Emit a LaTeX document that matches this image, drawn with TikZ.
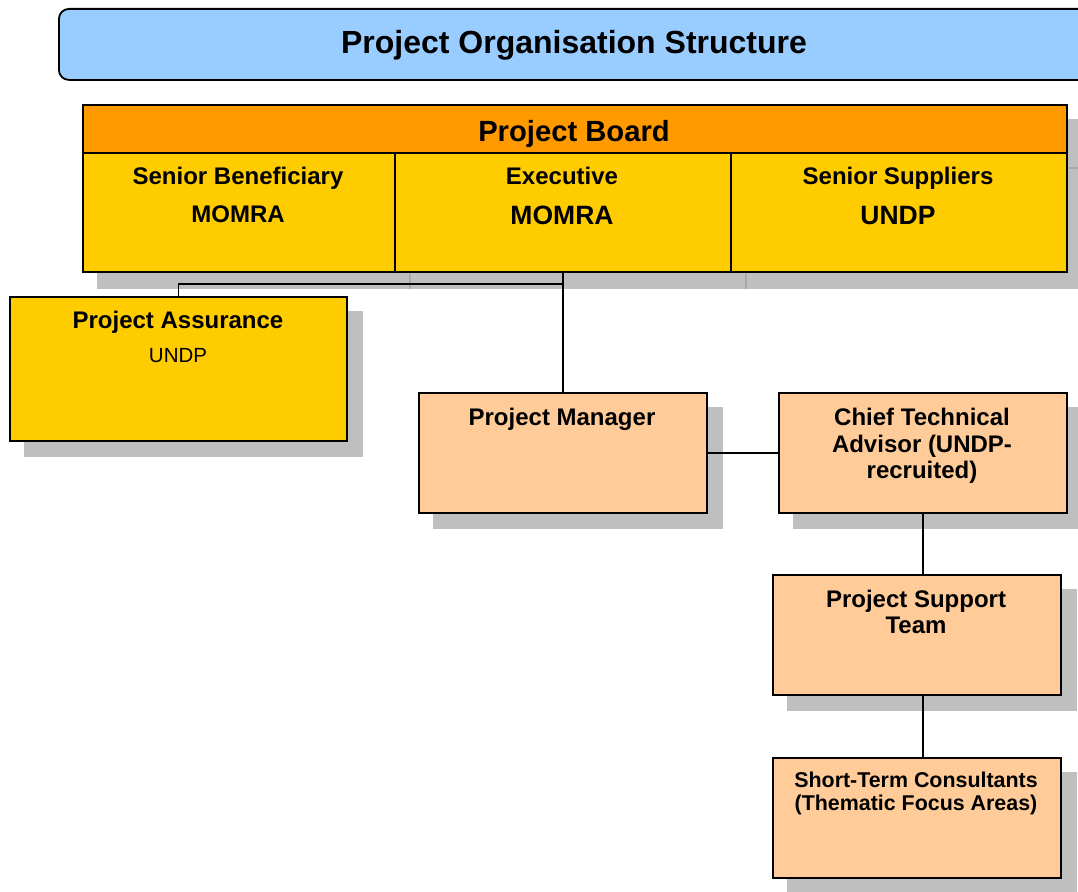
\documentclass[tikz,border=0pt]{standalone}
\usepackage{fontspec}
\setmainfont{Liberation Sans}
\definecolor{titleblue}{RGB}{153,204,255}
\definecolor{boardorange}{RGB}{255,153,0}
\definecolor{cellyellow}{RGB}{255,204,0}
\definecolor{peach}{RGB}{255,204,153}
\definecolor{shadowgrey}{RGB}{191,191,191}
\definecolor{shadowline}{RGB}{168,168,168}
\tikzset{
  box/.style={draw=black, line width=1.8pt, rectangle, inner sep=0pt, anchor=north west},
  shadowfill/.style={fill=shadowgrey},
  conn/.style={draw=black, line width=1.5pt},
  lbl/.style={anchor=base, inner sep=0pt},
  ftitle/.style={lbl, font=\fontsize{32}{37}\selectfont\bfseries},
  fboard/.style={lbl, font=\fontsize{29.2}{34}\selectfont\bfseries},
  fbig/.style={lbl, font=\fontsize{26.5}{31}\selectfont\bfseries},
  fmid/.style={lbl, font=\fontsize{24}{28}\selectfont\bfseries},
  fsmall/.style={lbl, font=\fontsize{21.4}{25}\selectfont\bfseries},
  freg/.style={lbl, font=\fontsize{20.5}{24}\selectfont},
}
\begin{document}
\begin{tikzpicture}[x=1pt,y=-1pt]
\clip (0,0) rectangle (1078,891);
\fill[white] (0,0) rectangle (1078,891);

% shadows
\fill[shadowfill] (97,119) rectangle (1083,289);
\draw[shadowline, line width=1.6pt] (97,168) -- (1083,168);
\draw[shadowline, line width=1.6pt] (410,168) -- (410,289);
\draw[shadowline, line width=1.6pt] (746,168) -- (746,289);
\fill[shadowfill] (24,311) rectangle (363,457);
\fill[shadowfill] (433,407) rectangle (723,529);
\fill[shadowfill] (793,407) rectangle (1083,529);
\fill[shadowfill] (787,589) rectangle (1077,711);
\fill[shadowfill] (787,772) rectangle (1077,894);

% title banner
\node[box, fill=titleblue, rounded corners=10pt, minimum width=1034pt, minimum height=71pt] (banner) at (58,8) {};
\node[ftitle] (titletext) at (574,53) {Project Organisation Structure};

% project board
\node[box, fill=boardorange, minimum width=984pt, minimum height=48pt] (board) at (82,104) {};
\node[box, fill=cellyellow, minimum width=312pt, minimum height=119pt] (sb) at (82,152) {};
\node[box, fill=cellyellow, minimum width=336pt, minimum height=119pt] (exec) at (394,152) {};
\node[box, fill=cellyellow, minimum width=336pt, minimum height=119pt] (ss) at (730,152) {};
\node[fboard] (boardtext) at (574,141) {Project Board};
\node[fmid] (sbt1) at (238,184) {Senior Beneficiary};
\node[fmid] (sbt2) at (238,222) {MOMRA};
\node[fmid] (ext1) at (562,184) {Executive};
\node[fbig] (ext2) at (562,224) {MOMRA};
\node[fmid] (sst1) at (898,184) {Senior Suppliers};
\node[fbig] (sst2) at (898,224) {UNDP};

% other boxes
\node[box, fill=cellyellow, minimum width=337pt, minimum height=144pt] (pa) at (9,296) {};
\node[fmid] (pat1) at (178,328) {Project Assurance};
\node[freg] (pat2) at (178,362) {UNDP};

\node[box, fill=peach, minimum width=288pt, minimum height=120pt] (pm) at (418,392) {};
\node[fmid] (pmt) at (562,425) {Project Manager};

\node[box, fill=peach, minimum width=288pt, minimum height=120pt] (cta) at (778,392) {};
\node[fmid] (ctat1) at (922,425) {Chief Technical};
\node[fmid] (ctat2) at (922,452) {Advisor (UNDP-};
\node[fmid] (ctat3) at (922,478) {recruited)};

\node[box, fill=peach, minimum width=288pt, minimum height=120pt] (pst) at (772,574) {};
\node[fmid] (pstt1) at (916,607) {Project Support};
\node[fmid] (pstt2) at (916,633) {Team};

\node[box, fill=peach, minimum width=288pt, minimum height=120pt] (stc) at (772,757) {};
\node[fsmall] (stct1) at (916,787) {Short-Term Consultants};
\node[fsmall] (stct2) at (916,810) {(Thematic Focus Areas)};

% connectors
\coordinate (jn) at (562,284);
\draw[conn] (exec.south) -- (pm.north);
\draw[conn] (jn) -| (pa.north);
\draw[conn] (pm.east) -- (cta.west);
\draw[conn] (cta.south) -- (cta.south |- pst.north);
\draw[conn] (cta.south |- pst.south) -- (cta.south |- stc.north);
\end{tikzpicture}
\end{document}
